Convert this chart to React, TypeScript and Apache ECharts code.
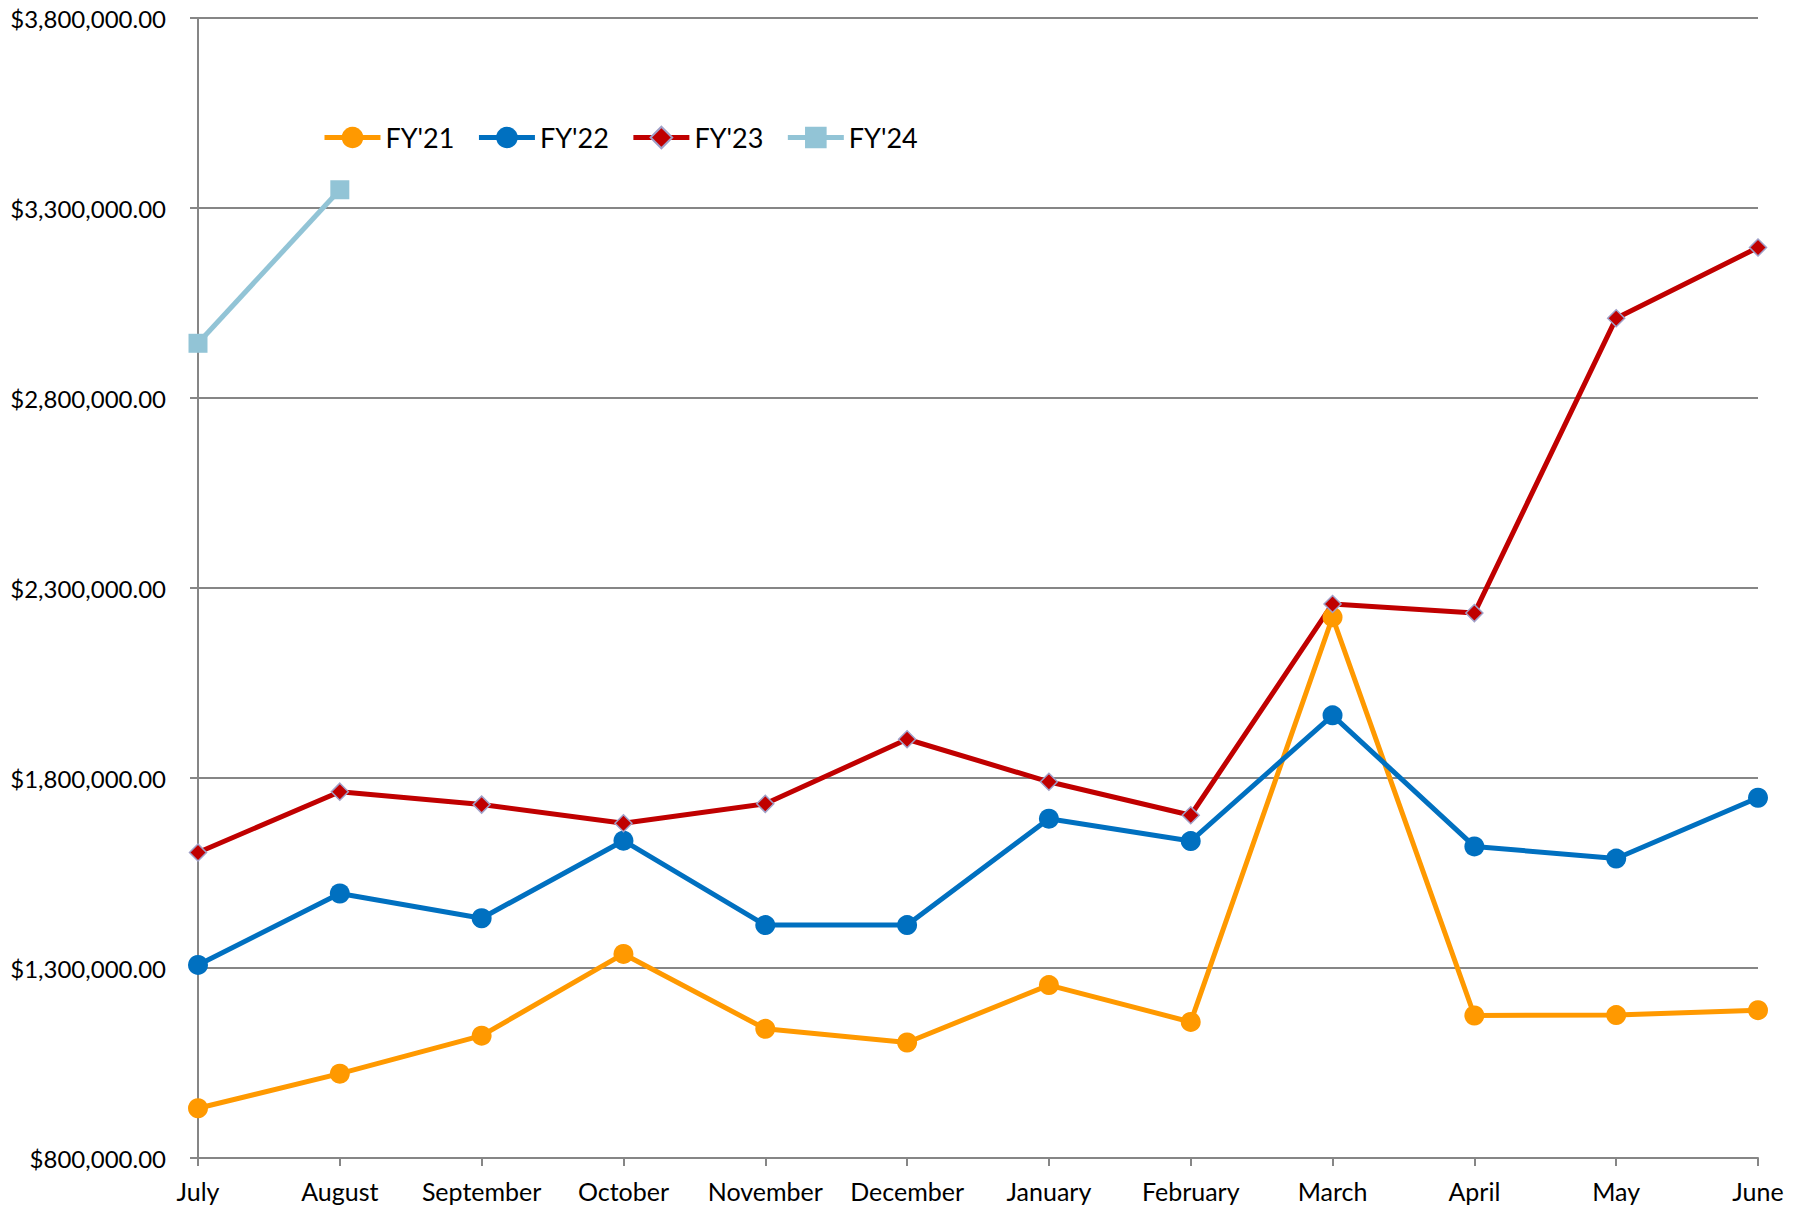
import React, { useEffect, useRef } from "react";
import * as echarts from "echarts";

const months = ["July", "August", "September", "October", "November", "December", "January", "February", "March", "April", "May", "June"];
const fy21 = [931000, 1022000, 1122000, 1337000, 1140000, 1104000, 1255000, 1158000, 2223000, 1175000, 1176000, 1189000];
const fy22 = [1308000, 1496000, 1431000, 1635000, 1413000, 1413000, 1693000, 1634000, 1965000, 1620000, 1588000, 1748000];
const fy23 = [1604000, 1764000, 1730000, 1681000, 1732000, 1902000, 1790000, 1702000, 2258000, 2234000, 3010000, 3196000];
const fy24 = [2944000, 3348000];
const seriesNames = ["FY'21", "FY'22", "FY'23", "FY'24"];

function fmt(v: number): string {
  const s = Math.round(v).toString();
  return "$" + s.replace(/\B(?=(\d{3})+(?!\d))/g, ",") + ".00";
}

export default function App() {
  const ref = useRef<HTMLDivElement>(null);
  useEffect(() => {
    document.body.style.margin = "0";
    const chart = echarts.init(ref.current!, null, { renderer: "svg" });
    const font = "Lato";
    chart.setOption({
      animation: false,
      backgroundColor: "#ffffff",
      textStyle: { fontFamily: font },
      grid: { left: 198, right: 51, top: 18, bottom: 54, containLabel: false },
      legend: {
        left: 317,
        top: 119,
        itemWidth: 56,
        itemHeight: 27,
        itemGap: 22,
        lineStyle: { width: 5 },
        textStyle: { fontFamily: font, fontSize: 27, color: "#000" },
        data: seriesNames,
      },
      xAxis: {
        type: "category",
        boundaryGap: false,
        data: months,
        axisLine: { lineStyle: { color: "#868686", width: 2 } },
        axisTick: { show: true, interval: 0, length: 8, lineStyle: { color: "#868686", width: 2 } },
        axisLabel: { interval: 0, fontFamily: font, fontSize: 25, color: "#000", margin: 20 },
        splitLine: { show: false },
      },
      yAxis: {
        type: "value",
        min: 800000,
        max: 3800000,
        interval: 500000,
        axisLine: { show: true, lineStyle: { color: "#868686", width: 2 } },
        axisTick: { show: true, length: 8, lineStyle: { color: "#868686", width: 2 } },
        axisLabel: { fontFamily: font, fontSize: 24, color: "#000", margin: 32, formatter: (v: number) => fmt(v) },
        splitLine: { show: true, lineStyle: { color: "#868686", width: 2 } },
      },
      series: [
        {
          name: seriesNames[0],
          type: "line",
          data: fy21,
          symbol: "circle",
          symbolSize: 20,
          color: "#FF9900",
          lineStyle: { width: 5, color: "#FF9900" },
          itemStyle: { color: "#FF9900" },
        },
        {
          name: seriesNames[1],
          type: "line",
          data: fy22,
          symbol: "circle",
          symbolSize: 20,
          color: "#0070C0",
          lineStyle: { width: 5, color: "#0070C0" },
          itemStyle: { color: "#0070C0" },
        },
        {
          name: seriesNames[2],
          type: "line",
          data: fy23,
          symbol: "diamond",
          symbolSize: 17,
          color: "#C00000",
          lineStyle: { width: 5, color: "#C00000" },
          itemStyle: { color: "#C00000", borderColor: "#A0A0C8", borderWidth: 1.5 },
        },
        {
          name: seriesNames[3],
          type: "line",
          data: fy24,
          symbol: "rect",
          symbolSize: 19,
          color: "#92C4D6",
          lineStyle: { width: 5, color: "#92C4D6" },
          itemStyle: { color: "#92C4D6" },
        },
      ],
    });
    return () => chart.dispose();
  }, []);
  return <div ref={ref} style={{ width: 1809, height: 1212 }} />;
}
